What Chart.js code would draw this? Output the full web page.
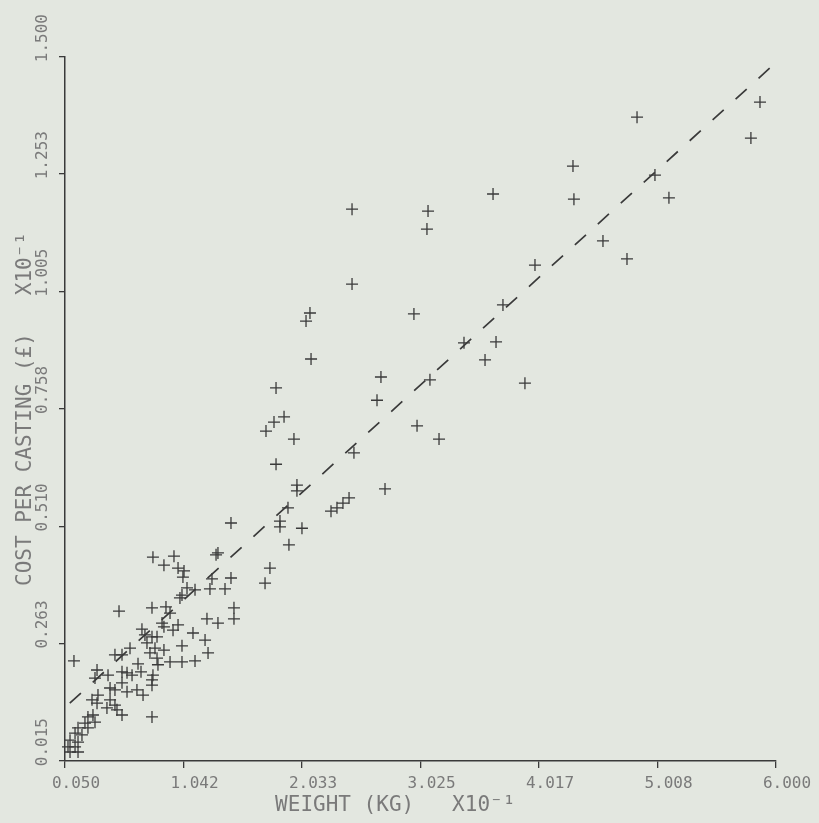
<!DOCTYPE html>
<html>
<head>
  <meta charset="utf-8">
  <title>Cost per casting vs weight</title>
  <script src="https://cdn.jsdelivr.net/npm/chart.js"></script>
  <style>
    html, body {
      margin: 0;
      padding: 0;
      overflow: hidden;
      background-color: #e3e7e0;
    }
    canvas {
      display: block;
    }
  </style>
</head>
<body>
  <canvas id="myChart" width="819" height="823"></canvas>

  <script>
    // Axis ticks as printed on the plot
    const xTickValues = [0.050, 1.042, 2.033, 3.025, 4.017, 5.008, 6.000];
    const xTickLabels = ['0.050', '1.042', '2.033', '3.025', '4.017', '5.008', '6.000'];
    const yTickValues = [0.015, 0.263, 0.510, 0.758, 1.005, 1.253, 1.500];
    const yTickLabels = ['0.015', '0.263', '0.510', '0.758', '1.005', '1.253', '1.500'];

    // Castings: weight (kg x10^-1) and cost per casting (GBP x10^-1)
    const weight = [
      4.744, 4.837, 5.866, 5.790, 4.301, 4.309, 4.987, 5.104, 3.632, 2.452,
      3.088, 3.079, 4.552, 4.753, 3.983, 3.715, 3.657, 3.565, 3.899,
      2.452, 2.100, 2.067, 2.970, 2.109, 3.389, 2.694, 3.104, 2.661, 1.816,
      1.883, 1.799, 1.732, 1.966, 2.996, 3.180, 2.468, 1.816, 1.991, 1.991,
      2.728, 1.916, 2.427, 2.376, 2.326, 2.276, 1.439, 1.849, 1.849, 2.033,
      1.924, 1.330, 1.314, 0.962, 1.724, 1.765,
      0.786, 0.878, 0.996, 1.046, 1.037, 1.280, 1.439, 1.263, 1.389, 1.071,
      1.138, 1.029, 1.012, 0.778, 0.895, 0.502, 0.929, 1.464, 1.464, 1.238,
      1.330, 0.862, 0.878, 0.996, 0.694, 0.719, 0.778, 0.820, 1.121, 1.222,
      0.954,
      0.125, 0.594, 0.736, 0.803, 0.878, 0.761, 1.029, 1.247, 0.468, 0.527,
      0.820, 0.828, 0.929, 1.029, 1.138, 0.661, 0.686, 0.527, 0.318, 0.410,
      0.786, 0.611, 0.569, 0.301, 0.778, 0.778, 0.527, 0.427, 0.468, 0.569,
      0.652, 0.703, 0.326, 0.276, 0.318, 0.427, 0.468, 0.485, 0.527, 0.401,
      0.778, 0.242, 0.284, 0.217, 0.301, 0.159, 0.242, 0.134, 0.192, 0.092,
      0.159, 0.075, 0.134, 0.092, 0.159
    ];
    const cost = [
      1.532, 1.373, 1.405, 1.329, 1.270, 1.200, 1.251, 1.203, 1.211, 1.179,
      1.175, 1.137, 1.112, 1.074, 1.061, 0.977, 0.899, 0.861, 0.812,
      1.021, 0.960, 0.943, 0.958, 0.863, 0.897, 0.825, 0.819, 0.776, 0.802,
      0.741, 0.730, 0.711, 0.694, 0.722, 0.694, 0.665, 0.641, 0.597, 0.585,
      0.589, 0.549, 0.570, 0.559, 0.549, 0.542, 0.517, 0.521, 0.509, 0.506,
      0.471, 0.454, 0.450, 0.447, 0.390, 0.422,
      0.445, 0.428, 0.422, 0.416, 0.403, 0.399, 0.401, 0.378, 0.378, 0.380,
      0.376, 0.365, 0.359, 0.338, 0.340, 0.331, 0.327, 0.338, 0.315, 0.315,
      0.306, 0.306, 0.298, 0.302, 0.293, 0.281, 0.277, 0.277, 0.285, 0.270,
      0.291,
      0.226, 0.253, 0.264, 0.253, 0.249, 0.243, 0.258, 0.243, 0.239, 0.239,
      0.232, 0.218, 0.224, 0.224, 0.226, 0.220, 0.203, 0.203, 0.207, 0.196,
      0.196, 0.196, 0.201, 0.190, 0.186, 0.175, 0.180, 0.169, 0.165, 0.161,
      0.165, 0.154, 0.154, 0.144, 0.137, 0.144, 0.133, 0.123, 0.112, 0.127,
      0.108, 0.108, 0.112, 0.095, 0.097, 0.085, 0.085, 0.074, 0.070, 0.059,
      0.055, 0.045, 0.045, 0.034, 0.034
    ];

    // Fitted line, end points as drawn
    const fitWeight = [0.09, 5.98];
    const fitCost = [0.137, 1.484];

    const inkColor = '#3a3a3a';
    const textColor = '#7a7a7a';
    const monoFont = '"DejaVu Sans Mono", "Liberation Mono", monospace';

    const points = weight.map((w, i) => ({ x: w, y: cost[i] }));
    const fitPoints = fitWeight.map((w, i) => ({ x: w, y: fitCost[i] }));

    const ctx = document.getElementById('myChart').getContext('2d');
    const chart = new Chart(ctx, {
      type: 'scatter',
      data: {
        datasets: [{
          label: 'Castings',
          data: points,
          pointStyle: 'cross',
          pointRadius: 6,
          pointBorderWidth: 1.3,
          borderColor: inkColor,
          backgroundColor: inkColor,
          clip: false
        }, {
          label: 'Fit',
          type: 'line',
          data: fitPoints,
          borderColor: inkColor,
          borderWidth: 1.7,
          borderDash: [15, 16],
          pointRadius: 0,
          fill: false
        }]
      },
      options: {
        responsive: false,
        animation: false,
        layout: {
          padding: { top: 57, right: 43, left: 0, bottom: 0 }
        },
        scales: {
          x: {
            type: 'linear',
            min: 0.05,
            max: 6.0,
            afterBuildTicks: (scale) => {
              scale.ticks = xTickValues.map(v => ({ value: v }));
            },
            afterFit: (scale) => { scale.height = 62; },
            ticks: {
              autoSkip: false,
              maxRotation: 0,
              labelOffset: 11,
              padding: 6,
              color: textColor,
              font: { family: monoFont, size: 16 },
              callback: (value, index) => xTickLabels[index]
            },
            grid: {
              drawOnChartArea: false,
              drawTicks: true,
              tickLength: 7,
              color: inkColor,
              lineWidth: 1.3
            },
            border: { display: true, color: inkColor, width: 1.5 },
            title: {
              display: true,
              text: 'WEIGHT (KG)   X10\u207B\u00B9    ',
              color: textColor,
              font: { family: monoFont, size: 21 },
              padding: { top: 0, bottom: 5 }
            }
          },
          y: {
            type: 'linear',
            min: 0.015,
            max: 1.5,
            afterBuildTicks: (scale) => {
              scale.ticks = yTickValues.map(v => ({ value: v }));
            },
            afterFit: (scale) => { scale.width = 65; },
            ticks: {
              autoSkip: false,
              minRotation: 90,
              maxRotation: 90,
              labelOffset: -43,
              padding: 16,
              color: textColor,
              font: { family: monoFont, size: 16 },
              callback: (value, index) => yTickLabels[index]
            },
            grid: {
              drawOnChartArea: false,
              drawTicks: true,
              tickLength: 6,
              color: inkColor,
              lineWidth: 1.3
            },
            border: { display: true, color: inkColor, width: 1.5 },
            title: {
              display: true,
              text: 'COST PER CASTING (\u00A3)   X10\u207B\u00B9',
              color: textColor,
              font: { family: monoFont, size: 21 },
              padding: { top: 13, bottom: 0 }
            }
          }
        },
        plugins: {
          legend: { display: false },
          tooltip: { enabled: false }
        }
      }
    });
  </script>
</body>
</html>
